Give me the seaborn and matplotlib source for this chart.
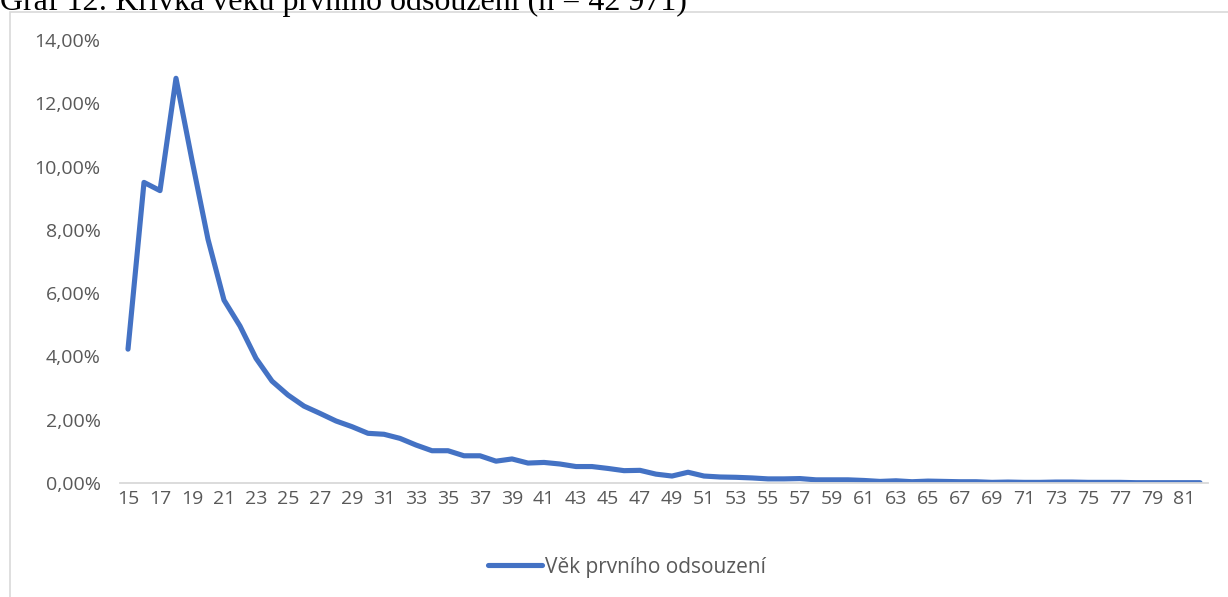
import numpy as np
import pandas as pd
from matplotlib import pyplot as plt
from matplotlib.patches import Rectangle
from matplotlib.ticker import FuncFormatter
import seaborn as sns

# vek prvniho odsouzeni, podil v %
ages = list(range(15, 83))
share = [4.23, 9.50, 9.24, 12.79, 10.20, 7.70, 5.78, 4.96, 3.94, 3.22,
         2.78, 2.43, 2.20, 1.96, 1.78, 1.57, 1.54, 1.41, 1.20, 1.02,
         1.02, 0.86, 0.86, 0.69, 0.76, 0.63, 0.65, 0.60, 0.52, 0.52,
         0.46, 0.39, 0.40, 0.28, 0.22, 0.34, 0.22, 0.19, 0.18, 0.16,
         0.13, 0.13, 0.14, 0.10, 0.10, 0.10, 0.08, 0.05, 0.07, 0.04,
         0.06, 0.05, 0.04, 0.04, 0.02, 0.03, 0.02, 0.02, 0.03, 0.03,
         0.02, 0.02, 0.02, 0.01, 0.01, 0.01, 0.01, 0.01]
series_name = "Věk prvního odsouzení"
title = "Graf 12: Křivka věku prvního odsouzení (n = 42 971)"

df = pd.DataFrame({"age": ages, "share": share, "serie": series_name})

sns.set_style("white")
plt.rcParams['font.family'] = ['Open Sans', 'DejaVu Sans']

fig = plt.figure(figsize=(12.28, 5.97), dpi=100)
ax = fig.add_axes([120/1228, 1 - 483/597, 1088/1228, 443/597])

# ramecek grafu
fig.patches.append(Rectangle((10/1228, -0.05), 1.2, 1 - 12/597 + 0.05,
                             transform=fig.transFigure, fill=False,
                             edgecolor='#d9d9d9', linewidth=1.2))

sns.lineplot(data=df, x="age", y="share", hue="serie", palette=['#4472C4'],
             linewidth=3.7, ax=ax, legend=False)
for ln in ax.lines:
    ln.set_solid_capstyle('round')
    ln.set_solid_joinstyle('round')

ax.set_xlim(14.5, 82.5)
ax.set_ylim(0, 14)
ax.set_yticks(np.arange(0, 15, 2))
ax.yaxis.set_major_formatter(FuncFormatter(lambda v, p: f"{v:.2f}%".replace('.', ',')))
ax.set_xticks(ages[::2])
ax.set_xticklabels([str(a) for a in ages[::2]])
ax.tick_params(axis='both', length=0, labelsize=14, labelcolor='#595959')
ax.tick_params(axis='y', pad=14)
ax.tick_params(axis='x', pad=5)
ax.set_xlabel("")
ax.set_ylabel("")
for s in ['top', 'right', 'left']:
    ax.spines[s].set_visible(False)
ax.spines['bottom'].set_color('#d9d9d9')
ax.spines['bottom'].set_linewidth(1.3)
ax.set_facecolor('none')

# legenda pod grafem
h = plt.Line2D([], [], color='#4472C4', linewidth=3.7, solid_capstyle='round')
fig.legend([h], [series_name], loc='center', bbox_to_anchor=(627/1228, 1 - 567/597),
           frameon=False, fontsize=15, labelcolor='#595959', handlelength=2.6,
           handletextpad=0.15)

fig.text(0, 1 - 10/597, title, fontsize=23, family='Liberation Serif',
         va='baseline', ha='left', color='black')

fig.savefig("out.png", dpi=100)
plt.close(fig)
